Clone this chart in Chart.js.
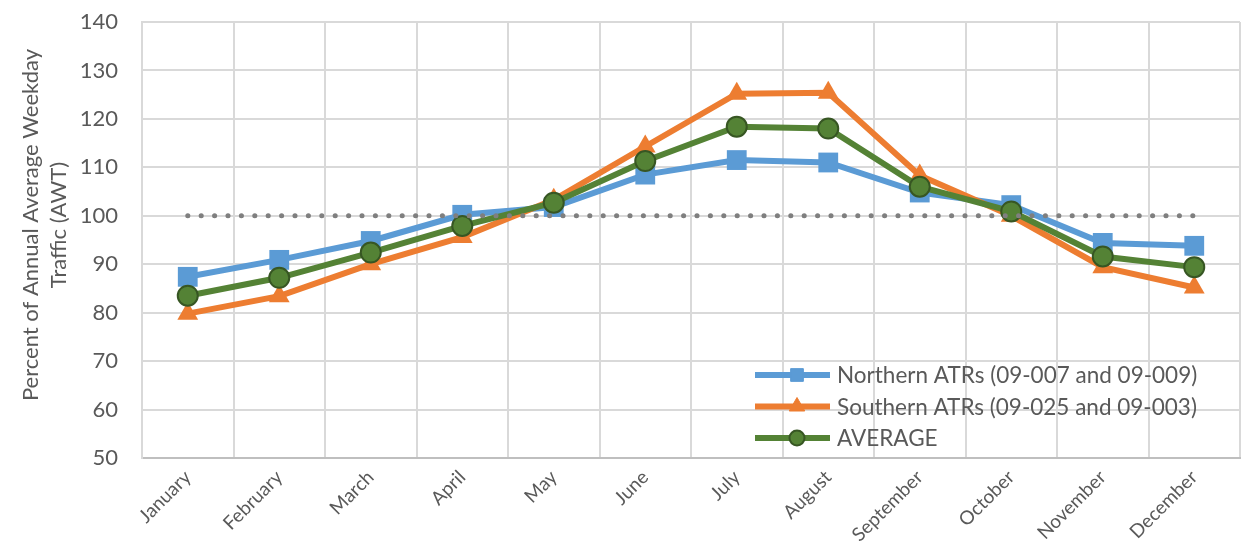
<!DOCTYPE html>
<html>
<head>
<meta charset="utf-8">
<script src="https://cdn.jsdelivr.net/npm/chart.js@4.4.1/dist/chart.umd.min.js"></script>
<style>
  html, body { margin: 0; padding: 0; background: #fff; }
  #wrap { width: 1241px; height: 555px; }
</style>
</head>
<body>
<div id="wrap"><canvas id="c" width="1241" height="555"></canvas></div>
<script>
// chart data
const months = ['January', 'February', 'March', 'April', 'May', 'June', 'July', 'August', 'September', 'October', 'November', 'December'];
const northern = [87.4, 90.9, 94.8, 100.2, 101.8, 108.5, 111.5, 111.0, 104.8, 102.2, 94.4, 93.8];
const southern = [79.8, 83.4, 90.0, 95.6, 103.3, 114.3, 125.2, 125.4, 108.3, 100.0, 89.4, 85.2];
const average = [83.5, 87.2, 92.4, 97.9, 102.7, 111.3, 118.4, 118.0, 106.0, 100.9, 91.6, 89.4];
const baseline = [100, 100, 100, 100, 100, 100, 100, 100, 100, 100, 100, 100];
const yTicks = [50, 60, 70, 80, 90, 100, 110, 120, 130, 140];
const yTitle = ['Percent of Annual Average Weekday', 'Traffic (AWT)'];

const legendItems = [
    { label: 'Northern ATRs (09-007 and 09-009)', color: '#5B9BD5', style: 'rect' },
    { label: 'Southern ATRs (09-025 and 09-003)', color: '#ED7D31', style: 'triangle' },
    { label: 'AVERAGE', color: '#548235', style: 'circle' }
];

const FONT = 'Lato, "Open Sans", sans-serif';
const TEXT = '#595959';

// legend inside the plot area (bottom right) + rotated axis title
const extras = {
    id: 'extras',
    afterDraw(chart) {
        const ctx = chart.ctx;
        const area = chart.chartArea;

        ctx.save();
        ctx.fillStyle = TEXT;
        ctx.font = '22px ' + FONT;
        ctx.textAlign = 'center';
        ctx.textBaseline = 'middle';
        ctx.translate(0, 225);
        ctx.rotate(-Math.PI / 2);
        ctx.fillText(yTitle[0], 0, 31);
        ctx.fillText(yTitle[1], 0, 59);
        ctx.restore();

        const x0 = area.right - 485;
        let y = area.bottom - 83;
        ctx.save();
        ctx.font = '22.5px ' + FONT;
        ctx.textBaseline = 'middle';
        legendItems.forEach((it) => {
            ctx.strokeStyle = it.color;
            ctx.lineWidth = 6;
            ctx.beginPath();
            ctx.moveTo(x0, y);
            ctx.lineTo(x0 + 75, y);
            ctx.stroke();
            const mx = x0 + 42;
            if (it.style === 'circle') {
                ctx.fillStyle = it.color;
                ctx.strokeStyle = '#375623';
                ctx.lineWidth = 2;
                ctx.beginPath();
                ctx.arc(mx, y, 7.5, 0, Math.PI * 2);
                ctx.fill();
                ctx.stroke();
            } else {
                ctx.fillStyle = it.color;
                ctx.strokeStyle = it.color;
                ctx.lineWidth = 1;
                Chart.helpers.drawPoint(ctx, { pointStyle: it.style, radius: 9, borderWidth: 1 }, mx, y);
            }
            ctx.fillStyle = TEXT;
            ctx.fillText(it.label, x0 + 82, y + 1);
            y += 31.5;
        });
        ctx.restore();
    }
};

new Chart(document.getElementById('c'), {
    type: 'line',
    data: {
        labels: months,
        datasets: [
            {
                label: 'Northern ATRs (09-007 and 09-009)',
                data: northern,
                borderColor: '#5B9BD5',
                backgroundColor: '#5B9BD5',
                borderWidth: 6,
                pointStyle: 'rect',
                pointRadius: 14,
                pointBorderWidth: 0,
                order: 3
            },
            {
                label: 'Southern ATRs (09-025 and 09-003)',
                data: southern,
                borderColor: '#ED7D31',
                backgroundColor: '#ED7D31',
                borderWidth: 6,
                pointStyle: 'triangle',
                pointRadius: 12,
                pointBorderWidth: 0,
                order: 2
            },
            {
                label: 'AVERAGE',
                data: average,
                borderColor: '#548235',
                backgroundColor: '#548235',
                pointBorderColor: '#375623',
                borderWidth: 6,
                pointStyle: 'circle',
                pointRadius: 10,
                pointBorderWidth: 2,
                order: 1
            },
            {
                label: 'baseline',
                data: baseline,
                borderColor: '#7F7F7F',
                borderWidth: 5,
                borderDash: [0.1, 13.3],
                borderCapStyle: 'round',
                pointRadius: 0,
                order: 0
            }
        ]
    },
    options: {
        responsive: false,
        animation: false,
        layout: { autoPadding: false, padding: { top: 0, right: 1, left: 0, bottom: 0 } },
        plugins: {
            legend: { display: false },
            tooltip: { enabled: false }
        },
        scales: {
            x: {
                offset: true,
                grid: { offset: true, color: '#D9D9D9', lineWidth: 2, drawTicks: false },
                border: { color: '#BFBFBF', width: 2 },
                ticks: {
                    color: TEXT,
                    font: { family: FONT, size: 19 },
                    minRotation: 45,
                    maxRotation: 45,
                    padding: 8
                },
                afterFit(scale) {
                    scale.height = 97;
                    scale.paddingLeft = 0;
                    scale.paddingRight = 0;
                }
            },
            y: {
                min: 50,
                max: 140,
                afterBuildTicks(scale) { scale.ticks = yTicks.map(v => ({ value: v })); },
                grid: { color: '#D9D9D9', lineWidth: 2, drawTicks: false },
                border: { color: '#D9D9D9', width: 2 },
                ticks: {
                    color: TEXT,
                    font: { family: FONT, size: 22 },
                    padding: 24
                },
                afterFit(scale) {
                    scale.width = 142;
                    scale.paddingTop = 22;
                    scale.paddingBottom = 0;
                }
            }
        }
    },
    plugins: [extras]
});
</script>
</body>
</html>
